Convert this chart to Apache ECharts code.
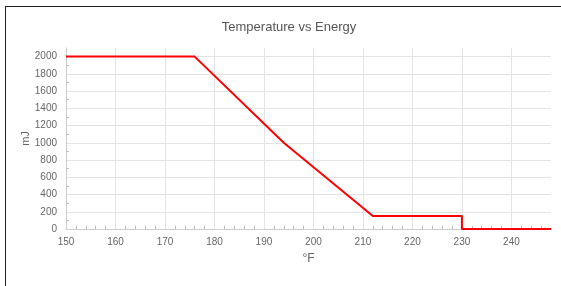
<!DOCTYPE html>
<html>
<head>
<meta charset="utf-8">
<script src="https://cdn.jsdelivr.net/npm/echarts@6/dist/echarts.min.js"></script>
<style>
  html, body { margin: 0; padding: 0; background: #fff; overflow: hidden; }
  #wrap { position: absolute; left: 0; top: 0; width: 561px; height: 286px; overflow: hidden; }
  #frame { position: absolute; left: 5px; top: 6px; width: 700px; height: 400px;
           border-left: 1px solid #222; border-top: 1px solid #222; }
  #chart { position: absolute; left: 0; top: 0; width: 561px; height: 286px; }
</style>
</head>
<body>
<div id="wrap">
  <div id="frame"></div>
  <div id="chart"></div>
</div>
<script>
var temps = [150, 176, 194, 212, 230, 230, 248];
var energy = [2000, 2000, 1000, 150, 150, 0, 0];

var points = temps.map(function (t, i) {
    return [t, energy[i]];
});

var myChart = echarts.init(document.getElementById('chart'), null, {renderer: 'canvas'});

var option = {
    animation: false,
    title: {
        text: 'Temperature vs Energy',
        top: 16,
        left: 284,
        textAlign: 'center',
        textStyle: {
            color: '#555',
            fontSize: 13,
            fontWeight: 'normal',
            fontFamily: 'Liberation Sans'
        }
    },
    grid: {
        left: 66,
        right: 10,
        top: 48,
        bottom: 57
    },
    xAxis: {
        type: 'value',
        min: 150,
        max: 248,
        interval: 10,
        name: '°F',
        nameLocation: 'middle',
        nameGap: 24,
        nameMoveOverlap: false,
        nameTextStyle: {color: '#666', fontSize: 12, fontFamily: 'Liberation Sans'},
        axisLine: {show: true, lineStyle: {color: '#ccc', width: 1}},
        axisTick: {show: false, inside: true},
        minorTick: {show: true, splitNumber: 5, length: 3, lineStyle: {color: '#bbb'}},
        axisLabel: {color: '#666', fontSize: 10, fontFamily: 'Liberation Sans', margin: 8, showMaxLabel: false},
        splitLine: {show: true, showMaxLine: false, lineStyle: {color: '#e3e3e3', width: 1}}
    },
    yAxis: {
        type: 'value',
        min: 0,
        max: 2100,
        interval: 200,
        name: 'mJ',
        nameLocation: 'middle',
        nameGap: 35,
        nameMoveOverlap: false,
        nameTextStyle: {color: '#666', fontSize: 11, fontFamily: 'Liberation Sans'},
        axisLine: {show: true, lineStyle: {color: '#ccc', width: 1}},
        axisTick: {show: false, inside: true},
        minorTick: {show: true, splitNumber: 2, length: 3, lineStyle: {color: '#bbb'}},
        axisLabel: {
            color: '#666', fontSize: 10, fontFamily: 'Liberation Sans', margin: 9, showMaxLabel: false,
            formatter: function (v) { return String(v); }
        },
        splitLine: {show: true, showMaxLine: false, showMinLine: false, lineStyle: {color: '#e3e3e3', width: 1}}
    },
    series: [{
        type: 'line',
        data: points,
        symbol: 'none',
        lineStyle: {color: '#ff0000', width: 2},
        clip: false
    }]
};

myChart.setOption(option);
</script>
</body>
</html>
